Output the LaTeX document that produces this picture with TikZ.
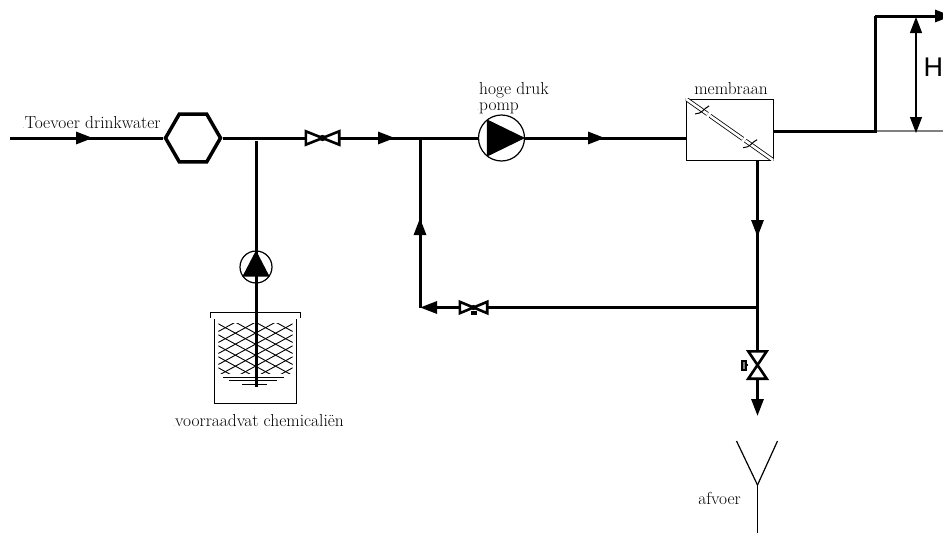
\documentclass[tikz,border=0pt]{standalone}
\usepackage{fontspec}
\setsansfont{Liberation Sans}
\usetikzlibrary{arrows.meta, calc, shapes.geometric, positioning}
\tikzset{
    textnode/.style  = {draw=none, fill=none, rectangle, inner sep = 0em, align=left,
      font=\fontsize{17.4}{16}\selectfont},
    pipe/.style = {black, line width=3pt},
    thinline/.style = {black, line width=1.2pt},
    flow/.style = {pipe, -{Triangle[length=17pt, width=12pt]}},
    hexnode/.style = {draw, regular polygon, regular polygon sides=6, minimum size=55pt,
      inner sep = 0em, line width=3.5pt, fill=white},
    valvenode/.style = {draw=none, rectangle, inner sep = 0em, minimum width=33pt, minimum height=13pt},
    smallvalvenode/.style = {valvenode, minimum width=27pt, minimum height=11pt},
    upvalvenode/.style = {valvenode, minimum width=18pt, minimum height=27pt},
    pumpnode/.style = {draw, circle, inner sep = 0em, line width=1.2pt, fill=white},
    boxnode/.style = {draw, rectangle, inner sep = 0em, line width=1pt},
    emptynode/.style = {draw=none, rectangle, inner sep = 0em}
}
\newcommand{\drawvalve}[1]{\draw [line width=2.6pt, fill=white, line join=miter]
  (#1.north west) -- (#1.south east) -- (#1.north east) -- (#1.south west) -- cycle;}

\begin{document}
\begin{tikzpicture}[x=1pt, y=1pt, node distance=0em]
\useasboundingbox (0,0) rectangle (943,-533);

% supply line
\node [hexnode, name=hex] at (193,-138) {};
\coordinate [name=in0, left of = hex, xshift=-183];
\coordinate [name=in1, left of = hex, xshift=-100];
\node [valvenode, name=vlv1, right of = hex, xshift=129.5] {};
\coordinate [name=tip2, right of = vlv1, xshift=72.5];
\coordinate [name=bp0, right of = vlv1, xshift=97.5];
\node [pumpnode, name=hpump, minimum size=46pt, right of = bp0, xshift=81.5] {};
\coordinate [name=tip3, right of = hpump, xshift=103.5];
\node [boxnode, name=mem, minimum width=87pt, minimum height=61pt, right of = hpump, xshift=228, yshift=8.5] {};
\coordinate [name=memin, right of = hpump, xshift=184.5];
\draw (in0) edge[pipe] (hex);
\draw (in0) edge[flow] (in1);
\draw (hex) edge[pipe] (vlv1);
\draw (vlv1) edge[pipe] (hpump);
\draw (vlv1) edge[flow] (tip2);
\draw (hpump) edge[pipe] (memin);
\draw (hpump) edge[flow] (tip3);
\drawvalve{vlv1}
\fill (vlv1.center) circle (3.2pt);
\fill (hpump.east) -- (hpump.128) -- (hpump.232) -- cycle;

% membrane
\coordinate (memA) at ($(mem.north west)!0.2!(mem.south east)$);
\coordinate (memB) at ($(mem.north west)!0.745!(mem.south east)$);
\coordinate (mem1) at ($(mem.north west)!0.25!(mem.south east)$);
\coordinate (mem2) at ($(mem.north west)!0.28!(mem.south east)$);
\coordinate (mem3) at ($(mem.north west)!0.65!(mem.south east)$);
\coordinate (mem4) at ($(mem.north west)!0.68!(mem.south east)$);
\begin{scope}
\clip (mem.north west) rectangle (mem.south east);
\draw [double, double distance=2.6pt, line width=0.8pt] (mem.north west) -- (mem1);
\draw [double, double distance=2.6pt, line width=0.8pt] (mem2) -- (mem3);
\draw [double, double distance=2.6pt, line width=0.8pt] (mem4) -- (mem.south east);
\end{scope}
\foreach \m in {memA, memB}
  \draw [line width=1pt] ([shift={(-8,-3)}]\m) .. controls ([shift={(-1,-3)}]\m) and ([shift={(0,2)}]\m) .. ([shift={(6,5)}]\m);
\node [textnode, name=lblmem, above of = mem, xshift=1.5, yshift=41] {membraan};

% outlet and height
\coordinate [name=out0, right of = mem, xshift=43.5, yshift=-1.5];
\coordinate [name=out1, right of = out0, xshift=102];
\coordinate [name=out2, above of = out1, yshift=115];
\coordinate [name=out3, right of = out2, xshift=77];
\coordinate [name=lvl, right of = out1, xshift=68];
\coordinate [name=dim0, right of = out1, xshift=41, yshift=114];
\coordinate [name=dim1, right of = out1, xshift=41, yshift=-2];
\draw (out1) edge[thinline, gray] (lvl);
\draw [pipe, line join=miter] (out0) -- (out1) -- (out2);
\draw (out2) edge[flow] (out3);
\draw (dim0) edge[thinline, {Triangle[length=16pt, width=12pt]}-{Triangle[length=16pt, width=12pt]}] (dim1);
\node [textnode, name=lblh, right of = out1, xshift=58.4, yshift=64, font=\sffamily\fontsize{27}{27}\selectfont] {H};

% drain side
\coordinate [name=memout, below of = mem, xshift=28, yshift=-30.5];
\coordinate [name=tip4, below of = memout, yshift=-77];
\coordinate [name=bp1, below of = memout, yshift=-147.5];
\node [upvalvenode, name=vlv3, below of = bp1, yshift=-57.5] {};
\coordinate [name=tip5, below of = vlv3, yshift=-51];
\draw (memout) edge[pipe] (bp1);
\draw (memout) edge[flow] (tip4);
\draw (bp1) edge[pipe] (vlv3);
\draw (vlv3) edge[flow] (tip5);
\draw [line width=2.6pt, fill=white] (vlv3.north west) -- (vlv3.north east) -- (vlv3.south west) -- (vlv3.south east) -- cycle;
\node [boxnode, name=hand, line width=2pt, fill=gray, minimum width=4pt, minimum height=9pt, left of = vlv3, xshift=-14] {};
\draw (vlv3) edge[pipe, line width=2.5pt] (hand);

% recirculation
\coordinate [name=bp2, below of = bp0, yshift=-169.5];
\coordinate [name=tip6, below of = bp0, yshift=-80];
\node [smallvalvenode, name=vlv2, right of = bp2, xshift=53.5] {};
\draw (bp1) edge[pipe] (vlv2);
\draw (vlv2) edge[flow] (bp2);
\draw (bp2) edge[pipe] (bp0);
\draw (bp2) edge[flow] (tip6);
\drawvalve{vlv2}
\fill (vlv2.center) circle (2.6pt);
\fill ([xshift=-3, yshift=-7]vlv2.center) rectangle ([xshift=3, yshift=-3]vlv2.center);

% chemicals
\coordinate [name=dose0, below of = hex, xshift=63, yshift=-3];
\node [pumpnode, name=dpump, minimum size=32pt, below of = dose0, yshift=-126] {};
\coordinate [name=dose1, below of = dpump, yshift=-120];
\node [emptynode, name=tank, minimum width=81pt, minimum height=84pt, below of = dpump, xshift=-0.5, yshift=-94] {};
\node [emptynode, name=hatch, minimum width=74pt, minimum height=49pt, below of = tank, yshift=12.5] {};
\draw [line width=1pt] (tank.north west) -- (tank.south west) -- (tank.south east) -- (tank.north east);
\draw [line width=1pt] ([shift={(-4,1)}]tank.north west) -- ([shift={(-4,6)}]tank.north west) -- ([shift={(4,6)}]tank.north east) -- ([shift={(4,1)}]tank.north east);
\begin{scope}
\clip (hatch.south west) rectangle (hatch.north east);
\foreach \k in {-55,-44,...,44} {
  \draw [line width=0.9pt] ([yshift=\k]hatch.north west) -- ([yshift=\k-40.7]hatch.north east);
  \draw [line width=0.9pt] ([yshift=\k]hatch.north east) -- ([yshift=\k-40.7]hatch.north west);
}
\end{scope}
\foreach \yy/\wl/\wr in {10/33/28, 7/27/21, 3/14/11}
  \draw [line width=1pt] ([xshift=-\wl, yshift=\yy]dose1) -- ([xshift=\wr, yshift=\yy]dose1);
\draw (dose1) edge[pipe] (dose0);
\fill (dpump.north) -- (dpump.215) -- (dpump.325) -- cycle;
\node [textnode, name=lbltank, below of = tank, xshift=4, yshift=-60] {\llap{\tiny.}voorraadvat chemicali\"en};

% drain funnel
\coordinate [name=afv, below of = tip5, yshift=-69];
\coordinate [name=afv0, above of = afv, xshift=-21, yshift=44];
\coordinate [name=afv1, above of = afv, xshift=20, yshift=44];
\coordinate [name=afv2, below of = afv, yshift=-48];
\draw (afv0) edge[thinline] (afv);
\draw (afv1) edge[thinline] (afv);
\draw (afv) edge[thinline] (afv2);
\node [textnode, name=lblafv, left of = afv, xshift=-38, yshift=-13] {afvoer};

% other labels
\node [textnode, name=lblin, left of = hex, xshift=-100.5, yshift=15] {\llap{\tiny.}Toevoer drinkwater};
\node [textnode, name=lblpump, above of = hpump, xshift=12.5, yshift=40] {hoge druk\\\llap{\tiny.}pomp};
\end{tikzpicture}
\end{document}
